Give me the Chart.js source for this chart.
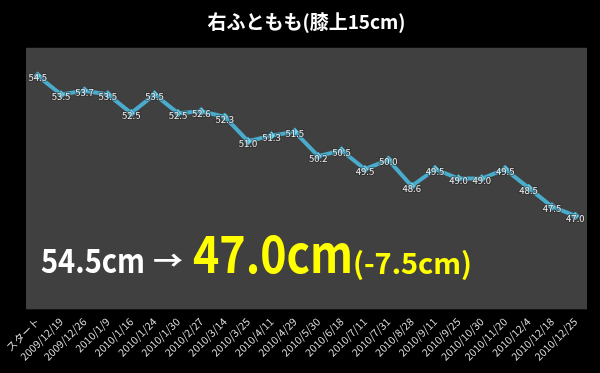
<!DOCTYPE html>
<html><head><meta charset="utf-8">
<script src="https://cdn.jsdelivr.net/npm/chart.js@4"></script>
<style>html,body{margin:0;padding:0;background:#000;}#wrap{width:600px;height:373px;}</style>
</head><body><div id="wrap"><canvas id="c" width="600" height="373"></canvas></div>
<script>
const categories = ["スタート","2009/12/19","2009/12/26","2010/1/9","2010/1/16","2010/1/24","2010/1/30","2010/2/27","2010/3/14","2010/3/25","2010/4/11","2010/4/29","2010/5/30","2010/6/18","2010/7/11","2010/7/31","2010/8/28","2010/9/11","2010/9/25","2010/10/30","2010/11/20","2010/12/4","2010/12/18","2010/12/25"];
const thighValues = [54.5,53.5,53.7,53.5,52.5,53.5,52.5,52.6,52.3,51.0,51.3,51.5,50.2,50.5,49.5,50.0,48.6,49.5,49.0,49.0,49.5,48.5,47.5,47.0];
const titleText = "右ふともも(膝上15cm)";
const summaryStart = "54.5cm";
const summaryArrow = "→";
const summaryEnd = "47.0cm";
const summaryDiff = "(-7.5cm)";
const FONT = "'Noto Sans CJK JP','Open Sans',sans-serif";

function drawFit(ctx, text, x, base, size, width, color) {
  ctx.save();
  ctx.font = "bold " + size + "px " + FONT;
  const w = ctx.measureText(text).width;
  ctx.translate(x, base);
  ctx.scale(width / w, 1);
  ctx.fillStyle = color;
  ctx.textAlign = 'left';
  ctx.textBaseline = 'alphabetic';
  ctx.fillText(text, 0, 0);
  ctx.restore();
}

const bgPlugin = {
  id: 'bg',
  beforeDraw(chart) {
    const {ctx, chartArea: a} = chart;
    ctx.save();
    ctx.fillStyle = '#000';
    ctx.fillRect(0, 0, chart.width, chart.height);
    ctx.fillStyle = '#404040';
    ctx.fillRect(a.left, a.top, a.right - a.left, a.bottom - a.top);
    ctx.restore();
  },
  afterDatasetsDraw(chart) {
    const {ctx, chartArea: a} = chart;
    const meta = chart.getDatasetMeta(0);
    ctx.save();
    ctx.font = "9.5px " + FONT;
    ctx.textAlign = 'center';
    ctx.textBaseline = 'middle';
    meta.data.forEach((pt, i) => {
      const t = thighValues[i].toFixed(1);
      ctx.lineWidth = 2;
      ctx.strokeStyle = 'rgba(40,40,40,0.5)';
      ctx.strokeText(t, pt.x, pt.y + 2);
      ctx.fillStyle = '#f0f0f0';
      ctx.fillText(t, pt.x, pt.y + 2);
    });
    ctx.restore();
    const base = a.top + 225;
    drawFit(ctx, summaryStart, a.left + 15, base, 33, 104, '#ffffff');
    drawFit(ctx, summaryArrow, a.left + 127, base - 3, 26, 30, '#ffffff');
    drawFit(ctx, summaryEnd, a.left + 167, base, 52, 160, '#ffff00');
    drawFit(ctx, summaryDiff, a.left + 327, base + 1, 29, 119, '#ffff00');
  }
};

new Chart(document.getElementById('c'), {
  type: 'line',
  data: {
    labels: categories,
    datasets: [{
      data: thighValues,
      borderColor: '#4aaccc',
      borderWidth: 4,
      backgroundColor: '#72d2ec',
      pointStyle: 'rectRot',
      pointRadius: 4,
      pointBorderColor: '#3a9ec0',
      pointBorderWidth: 1,
      tension: 0,
      fill: false
    }]
  },
  options: {
    responsive: false,
    animation: false,
    devicePixelRatio: 1,
    layout: { padding: { left: 26, right: 13, top: 0, bottom: 4 } },
    plugins: {
      legend: { display: false },
      tooltip: { enabled: false },
      title: {
        display: true,
        text: titleText,
        color: '#ffffff',
        font: { family: FONT, size: 19, weight: 'bold' },
        padding: { top: 10, bottom: 15 }
      }
    },
    scales: {
      x: {
        offset: true,
        grid: { display: false, drawTicks: false },
        border: { display: false },
        ticks: {
          color: '#dcdcdc',
          font: { family: FONT, size: 10.5 },
          maxRotation: 45,
          minRotation: 45,
          autoSkip: false,
          padding: 6
        }
      },
      y: {
        display: false,
        min: 42,
        max: 56
      }
    }
  },
  plugins: [bgPlugin]
});
</script>
</body></html>
